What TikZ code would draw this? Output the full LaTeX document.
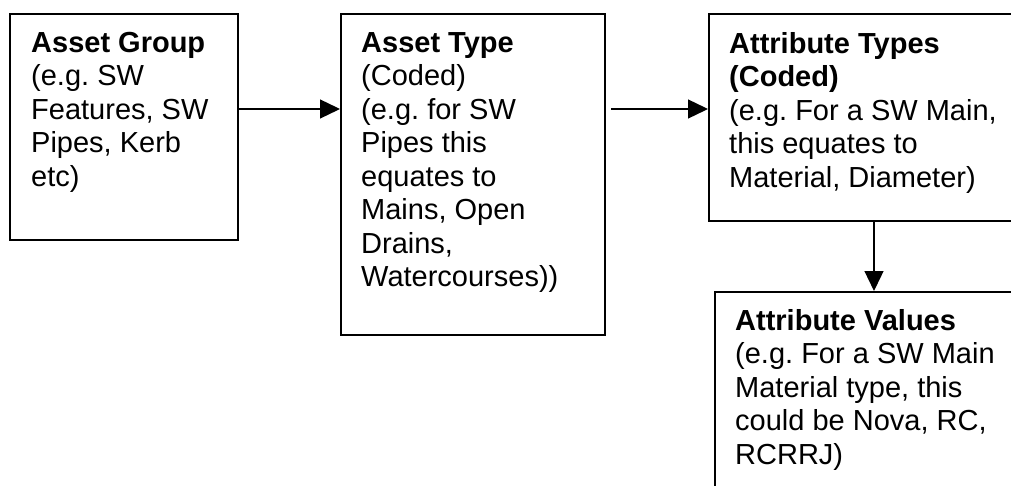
\documentclass[tikz,border=0pt]{standalone}
\usepackage{fontspec}
\setmainfont{Liberation Sans}
\frenchspacing
\usetikzlibrary{arrows.meta}
\usetikzlibrary{calc}
\tikzset{
	box/.style={draw, line width=2pt, anchor=north west, inner sep=0pt},
	boxtext/.style={anchor=north west, align=left, inner sep=0pt,
		font=\fontsize{29}{33.5}\selectfont},
	flow/.style={line width=1.3pt, -{Triangle[length=20pt,width=19pt]}},
}

\begin{document}
\begin{tikzpicture}[x=1pt,y=-1pt]
	\clip (0,0) rectangle (1011,486);
	% boxes
	\node[box, minimum width=228pt, minimum height=226pt] (group) at (9,13) {};
	\node[box, minimum width=264pt, minimum height=321pt] (type) at (340,13) {};
	\node[box, minimum width=340pt, minimum height=207pt] (attrtypes) at (708,13) {};
	\node[box, minimum width=340pt, minimum height=240pt] (attrvalues) at (714,291) {};
	% texts
	\node[boxtext] (grouptext) at ($(group.north west)+(22,19)$)
		{\textbf{Asset Group}\\(e.g. SW\\Features, SW\\Pipes, Kerb\\etc)};
	\node[boxtext] (typetext) at ($(type.north west)+(21,19)$)
		{\textbf{Asset Type}\\(Coded)\\(e.g. for SW\\Pipes this\\equates to\\Mains, Open\\Drains,\\Watercourses))};
	\node[boxtext] (attrtypestext) at ($(attrtypes.north west)+(21,19)$)
		{\textbf{Attribute Types}\\\textbf{(Coded)}\\(e.g. For a SW Main,\\this equates to\\Material, Diameter)};
	\node[boxtext] (attrvaluestext) at ($(attrvalues.north west)+(21,18)$)
		{\textbf{Attribute Values}\\(e.g. For a SW Main\\Material type, this\\could be Nova, RC,\\RCRRJ)};
	% connectors
	\coordinate (a1) at ($(group.north east)+(0,96)$);
	\draw[flow] (a1) -- (a1 -| type.west);
	\coordinate (a2) at ($(type.north east)+(5,96)$);
	\draw[flow] (a2) -- (a2 -| attrtypes.west);
	\coordinate (a3) at ($(attrtypes.south west)+(166,0)$);
	\draw[flow] (a3) -- (a3 |- attrvalues.north);
\end{tikzpicture}
\end{document}
